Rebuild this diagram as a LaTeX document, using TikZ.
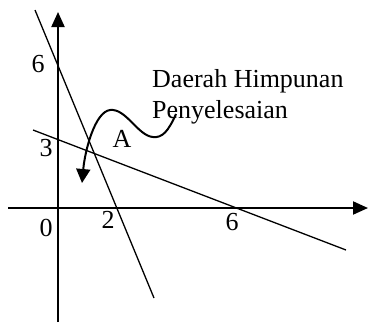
\documentclass[tikz,border=0pt]{standalone}
\usepackage{fontspec}
\setmainfont{Liberation Serif}
\usetikzlibrary{arrows.meta}
\begin{document}
\begin{tikzpicture}[x=1pt,y=-1pt,
  axis/.style={line width=2pt,-{Triangle[length=15pt,width=13pt]}},
  graphline/.style={line width=1.3pt},
  lbl/.style={inner sep=0pt,font=\fontsize{26}{31}\selectfont},
  curvearrow/.style={line width=2pt,-{Triangle[length=14pt,width=14pt]}}]
\useasboundingbox (0,0) rectangle (369,322);
% axes
\coordinate (xs) at (8,208);
\coordinate (xe) at (368,208);
\coordinate (ys) at (58,322);
\coordinate (ye) at (58,12);
\draw[axis] (xs) -- (xe);
\draw[axis] (ys) -- (ye);
% lines
\coordinate (l1a) at (35,10);
\coordinate (l1b) at (154,298);
\coordinate (l2a) at (33,130);
\coordinate (l2b) at (346,250);
\draw[graphline] (l1a) -- (l1b);
\draw[graphline] (l2a) -- (l2b);
% labels
\node[lbl] (six) at (38,64) {6};
\node[lbl] (three) at (46,148) {3};
\node[lbl] (zero) at (46,228) {0};
\node[lbl] (two) at (108,220) {2};
\node[lbl] (sixx) at (232,222) {6};
\node[lbl] (A) at (122,139) {A};
\node[lbl,anchor=base west] (t1) at (152,87) {Daerah Himpunan};
\node[lbl,anchor=base west] (t2) at (152,118) {Penyelesaian};
% curvy arrow
\coordinate (cs) at (176,114);
\coordinate (ce) at (82,183);
\draw[curvearrow] (cs) .. controls (168,132) and (162,138) .. (153,137)
  .. controls (138,136) and (126,108) .. (110,110)
  .. controls (95,112) and (85,150) .. (ce);
\end{tikzpicture}
\end{document}
